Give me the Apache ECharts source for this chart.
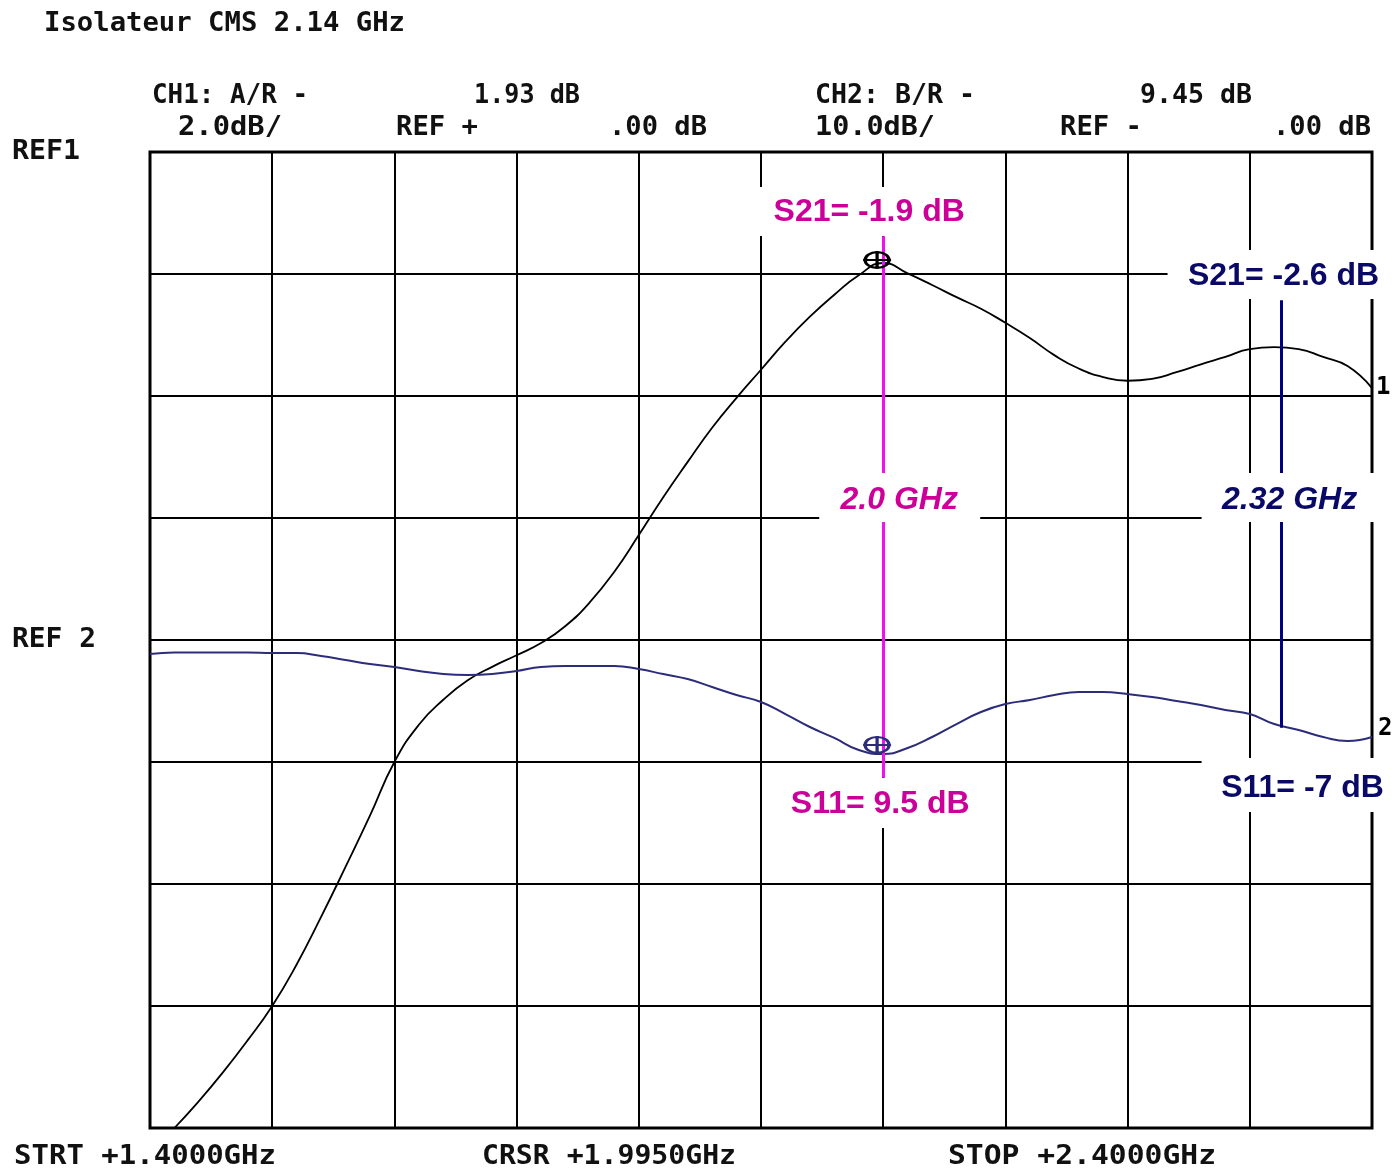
<!DOCTYPE html>
<html>
<head>
<meta charset="utf-8">
<script src="https://cdn.jsdelivr.net/npm/echarts@6/dist/echarts.min.js"></script>
<style>
html,body{margin:0;padding:0;background:#fff;}
#c{width:1397px;height:1168px;}
</style>
</head>
<body>
<div id="c"></div>
<script>
// Frequency (MHz)
const freqMHz = [1400,1420,1440,1460,1480,1500,1520,1540,1560,1580,1600,1620,1640,1660,1680,1700,1720,1740,1760,1780,1800,1820,1840,1860,1880,1900,1920,1940,1960,1980,2000,2020,2040,2060,2080,2100,2120,2140,2160,2180,2200,2220,2240,2260,2280,2300,2320,2340,2360,2380,2400];
// CH1 : S21 (dB, 2 dB/div, ref 0 dB at top)
const s21dB = [-16.40,-16.00,-15.56,-15.08,-14.56,-14.00,-13.32,-12.54,-11.72,-10.88,-10.00,-9.39,-8.98,-8.66,-8.44,-8.25,-8.05,-7.77,-7.38,-6.88,-6.28,-5.66,-5.08,-4.52,-4.03,-3.57,-3.11,-2.70,-2.34,-2.02,-1.82,-1.99,-2.18,-2.38,-2.57,-2.80,-3.05,-3.33,-3.55,-3.69,-3.75,-3.72,-3.61,-3.48,-3.36,-3.23,-3.20,-3.23,-3.36,-3.51,-3.87];
// CH2 : S11 (dB, 10 dB/div, ref 0 dB at REF 2)
const s11dB = [-1.15,-1.02,-1.02,-1.02,-1.02,-1.07,-1.07,-1.31,-1.64,-1.97,-2.21,-2.54,-2.79,-2.87,-2.79,-2.54,-2.21,-2.13,-2.13,-2.13,-2.38,-2.79,-3.20,-3.85,-4.51,-5.08,-6.07,-7.13,-8.03,-9.02,-9.34,-8.85,-7.95,-6.89,-5.90,-5.25,-4.92,-4.51,-4.26,-4.26,-4.43,-4.67,-5.00,-5.33,-5.74,-6.07,-6.89,-7.38,-7.95,-8.28,-7.95];
// Cursor
const cursorMHz = 1995;
const cursorS21 = -1.77;
const cursorS11 = -8.6;
// Annotation markers (freq MHz, CH1 top, CH1 bottom)
const marker1 = {freq: 2000, top: -1.38, bottom: -10.26};
const marker2 = {freq: 2326, top: -2.43, bottom: -9.44};
const marker1Texts = ['S21= -1.9 dB', '2.0 GHz', 'S11= 9.5 dB'];
const marker2Texts = ['S21= -2.6 dB', '2.32 GHz', 'S11= -7 dB'];
// Header / footer texts
const titleText = 'Isolateur CMS 2.14 GHz';
const headerRow1 = ['CH1: A/R -', '1.93 dB', 'CH2: B/R -', '9.45 dB'];
const headerRow2 = ['2.0dB/', 'REF +', '.00 dB', '10.0dB/', 'REF -', '.00 dB'];
const refLabels = ['REF1', 'REF 2'];
const footer = ['STRT +1.4000GHz', 'CRSR +1.9950GHz', 'STOP +2.4000GHz'];

const MAG_TEXT = '#cc0099', MAG_LINE = '#f010f0';
const NAVY_TEXT = '#0a0a66', NAVY_LINE = '#000080';
const S11_COLOR = '#2c2c7a';
const MONO = '"DejaVu Sans Mono", "Liberation Mono", monospace';
const SANS = '"Liberation Sans", Arial, sans-serif';

const chart = echarts.init(document.getElementById('c'), null, {renderer: 'canvas'});

const markerSymbol = 'path://M2,9 A12,7 0 1,1 26,9 A12,7 0 1,1 2,9 Z M0,9 L28,9 M14,1 L14,17';

const option = {
  animation: false,
  backgroundColor: '#fff',
  grid: {left: 150, top: 152, width: 1222, height: 976, show: true, borderColor: '#000', borderWidth: 3, backgroundColor: 'transparent'},
  xAxis: {
    type: 'value', min: 1400, max: 2400, interval: 100,
    axisLine: {show: false}, axisTick: {show: false}, axisLabel: {show: false},
    splitLine: {show: true, lineStyle: {color: '#000', width: 2}}
  },
  yAxis: [
    {type: 'value', min: -16, max: 0, interval: 2,
     axisLine: {show: false}, axisTick: {show: false}, axisLabel: {show: false},
     splitLine: {show: true, lineStyle: {color: '#000', width: 2}}},
    {type: 'value', min: -40, max: 40, interval: 10,
     axisLine: {show: false}, axisTick: {show: false}, axisLabel: {show: false},
     splitLine: {show: false}}
  ],
  series: [
    {
      name: 'S21', type: 'line', yAxisIndex: 0, z: 3,
      data: freqMHz.map((f, i) => [f, s21dB[i]]),
      showSymbol: false, smooth: 0.5, clip: true,
      lineStyle: {color: '#000', width: 1.8},
      endLabel: {show: true, formatter: '1', color: '#000', fontFamily: MONO, fontWeight: 'bold', fontSize: 24, distance: 4},
      markPoint: {
        symbol: markerSymbol, symbolSize: [28, 18], silent: true,
        itemStyle: {color: 'rgba(0,0,0,0)', borderColor: '#000', borderWidth: 2.6},
        label: {show: false},
        data: [{coord: [cursorMHz, cursorS21]}]
      },
      markLine: {
        symbol: ['none', 'none'], silent: true, label: {show: false},
        data: [
          [{coord: [marker1.freq, marker1.top], lineStyle: {color: MAG_LINE, width: 3, type: 'solid'}},
           {coord: [marker1.freq, marker1.bottom]}],
          [{coord: [marker2.freq, marker2.top], lineStyle: {color: NAVY_LINE, width: 3, type: 'solid'}},
           {coord: [marker2.freq, marker2.bottom]}]
        ]
      }
    },
    {
      name: 'S11', type: 'line', yAxisIndex: 1, z: 3,
      data: freqMHz.map((f, i) => [f, s11dB[i]]),
      showSymbol: false, smooth: 0.5, clip: true,
      lineStyle: {color: S11_COLOR, width: 2},
      endLabel: {show: true, formatter: '2', color: '#000', fontFamily: MONO, fontWeight: 'bold', fontSize: 24, distance: 6, offset: [0, -8]},
      markPoint: {
        symbol: markerSymbol, symbolSize: [28, 18], silent: true,
        itemStyle: {color: 'rgba(0,0,0,0)', borderColor: S11_COLOR, borderWidth: 2.6},
        label: {show: false},
        data: [{coord: [cursorMHz, cursorS11]}]
      }
    }
  ]
};
chart.setOption(option);

const measureCtx = document.createElement('canvas').getContext('2d');
function monoTxt(text, left, right, y, size) {
  const font = 'bold ' + size + 'px ' + MONO;
  measureCtx.font = font;
  const w = measureCtx.measureText(text).width;
  const sx = w > 0 ? (right - left) / w : 1;
  return {type: 'text', x: left, y: y, scaleX: sx, z: 60,
    style: {text: text, font: font, fill: '#111', align: 'left', verticalAlign: 'middle',
            textAlign: 'left', textVerticalAlign: 'middle'}};
}
function txt(text, x, y, font, fill) {
  return {type: 'text', x: x, y: y, z: 60,
    style: {text: text, font: font, fill: fill, align: 'center', verticalAlign: 'middle',
            textAlign: 'center', textVerticalAlign: 'middle'}};
}
function box(x, y, w, h) {
  return {type: 'rect', z: 55, shape: {x: x, y: y, width: w, height: h}, style: {fill: '#fff'}};
}

const m1x = chart.convertToPixel({xAxisIndex: 0}, marker1.freq);
const m2x = chart.convertToPixel({xAxisIndex: 0}, marker2.freq);
const bold = 'bold 32px ' + SANS;
const boldIt = 'italic bold 32px ' + SANS;

const g = [];
// Title & header
g.push(monoTxt(titleText, 44, 405, 24, 27));
const h1 = [[152, 308], [474, 580], [815, 975], [1140, 1252]];
headerRow1.forEach((t, i) => g.push(monoTxt(t, h1[i][0], h1[i][1], 96, 26)));
const h2 = [[178, 282], [396, 478], [609, 707], [815, 935], [1060, 1142], [1273, 1371]];
headerRow2.forEach((t, i) => g.push(monoTxt(t, h2[i][0], h2[i][1], 128, 26)));
g.push(monoTxt(refLabels[0], 12, 80, 152, 27));
g.push(monoTxt(refLabels[1], 12, 96, 640, 27));
const f = [[14, 276], [482, 736], [948, 1216]];
footer.forEach((t, i) => g.push(monoTxt(t, f[i][0], f[i][1], 1157, 27)));

// Marker 1 annotations (magenta)
g.push(box(m1x - 128, 187, 228, 49));
g.push(txt(marker1Texts[0], m1x - 14, 212, bold, MAG_TEXT));
g.push(box(m1x - 64, 473, 161, 49));
g.push(txt(marker1Texts[1], m1x + 16, 500, boldIt, MAG_TEXT));
g.push(box(m1x - 106, 778, 210, 50));
g.push(txt(marker1Texts[2], m1x - 3, 804, bold, MAG_TEXT));
// Marker 2 annotations (navy)
g.push(box(m2x - 114, 250, 240, 49));
g.push(txt(marker2Texts[0], m2x + 2, 276, bold, NAVY_TEXT));
g.push(box(m2x - 80, 473, 178, 49));
g.push(txt(marker2Texts[1], m2x + 8, 500, boldIt, NAVY_TEXT));
g.push(box(m2x - 80, 758, 200, 54));
g.push(txt(marker2Texts[2], m2x + 21, 788, bold, NAVY_TEXT));

chart.setOption({graphic: g});
</script>
</body>
</html>
